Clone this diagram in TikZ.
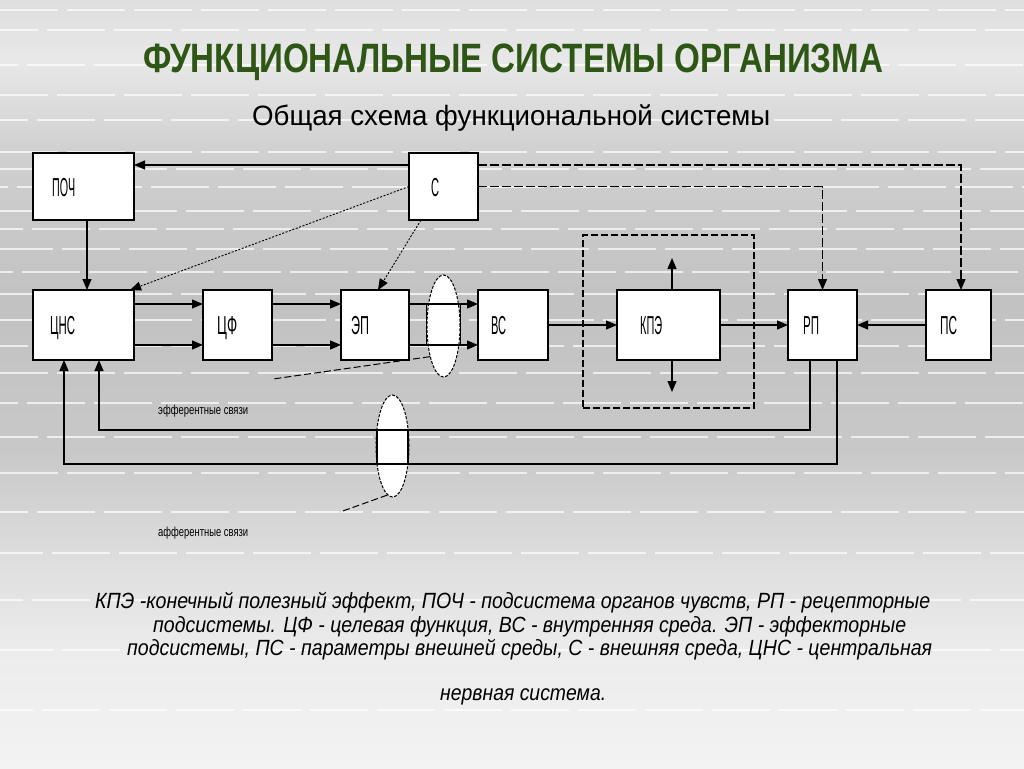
\documentclass[tikz,border=0pt]{standalone}
\usepackage{fontspec}
\setmainfont{Liberation Sans}
\usepackage{graphicx}
\usetikzlibrary{arrows.meta,shapes.geometric,calc}
\definecolor{cA}{RGB}{222,222,222}
\definecolor{cB}{RGB}{232,232,232}
\definecolor{cC}{RGB}{208,208,208}
\definecolor{cD}{RGB}{194,194,194}
\definecolor{cE}{RGB}{200,200,200}
\definecolor{cF}{RGB}{222,222,222}
\definecolor{cG}{RGB}{236,236,236}
\definecolor{cH}{RGB}{243,243,243}
\definecolor{titlegreen}{RGB}{46,86,20}
\pgfdeclareverticalshading{bgshade}{100bp}{color(0bp)=(cH); color(25bp)=(cH); color(32.7bp)=(cG); color(38.5bp)=(cF); color(45.7bp)=(cE); color(55.5bp)=(cD); color(65.2bp)=(cC); color(71.1bp)=(cB); color(75bp)=(cA); color(100bp)=(cA)}
\newcommand{\fitw}[2]{\resizebox{#1pt}{\height}{#2}}
\tikzset{
  box/.style={draw=black, line width=1.4pt, fill=white, inner sep=0pt, outer sep=0pt, rectangle},
  lab/.style={anchor=base west, inner sep=0pt, font=\fontsize{26}{26}\selectfont},
  conn/.style={line width=1.2pt},
  arr/.style={conn, -{Triangle[length=11pt,width=9pt]}},
  dotl/.style={line width=0.9pt, dash pattern=on 2pt off 1.6pt},
  dashl/.style={line width=1.2pt, dash pattern=on 9pt off 3pt},
  ptr/.style={line width=1pt, dash pattern=on 7pt off 3pt},
  lens/.style={ellipse, draw, fill=white, line width=1pt, dash pattern=on 3pt off 1.5pt, inner sep=0pt, minimum width=33pt, minimum height=102pt},
  stripe/.style={white, opacity=0.7, line width=2.5pt},
  capline/.style={anchor=west, inner sep=0pt, font=\fontsize{22}{22}\selectfont\itshape},
}
\begin{document}
\begin{tikzpicture}[x=1pt,y=-1pt]
\useasboundingbox (0,0) rectangle (1024,768);
\shade[shading=bgshade] (0,0) rectangle (1024,768);
% background stripes
\foreach \yy/\ph in {10/0,30/20,65/40,95/10,120/30,152/0,169/25,187/50,211/15,229/35,249/5,272/45,294/20,320/0,346/30,373/10,403/40,437/20,473/0,512/30,553/15,600/35,650/5,710/25}
  \draw[stripe, dash pattern=on 58pt off 9pt, dash phase=\ph pt] (0,\yy) -- (1024,\yy);

% titles
\node[anchor=west, inner sep=0pt, text=titlegreen, font=\fontsize{41}{41}\selectfont\bfseries] (title) at (143,62) {\fitw{740}{ФУНКЦИОНАЛЬНЫЕ СИСТЕМЫ ОРГАНИЗМА}};
\node[anchor=west, inner sep=0pt, font=\fontsize{28}{28}\selectfont] (sub) at (252,118) {\fitw{518}{Общая схема функциональной системы}};

% dashed zone around КПЭ
\node[draw, line width=1.1pt, dash pattern=on 7pt off 3pt, minimum width=171pt, minimum height=173pt, inner sep=0pt] (zone) at (668.5,321.5) {};

% lenses
\node[lens] (el1) at (443.5,326) {};
\node[lens] (el2) at (392.5,446) {};

% boxes
\node[box,minimum width=101pt,minimum height=67pt] (poch) at (83.5,186.5) {};
\node[box,minimum width=69pt,minimum height=67pt] (s) at (443.5,186.5) {};
\node[box,minimum width=101pt,minimum height=70pt] (cns) at (83.5,325) {};
\node[box,minimum width=69pt,minimum height=70pt] (cf) at (237.5,325) {};
\node[box,minimum width=68pt,minimum height=70pt] (ep) at (375,325) {};
\node[box,minimum width=70pt,minimum height=70pt] (vs) at (513,325) {};
\node[box,minimum width=103pt,minimum height=70pt] (kpe) at (668.5,325) {};
\node[box,minimum width=69pt,minimum height=70pt] (rp) at (822.5,325) {};
\node[box,minimum width=65pt,minimum height=70pt] (ps) at (958.5,325) {};

% box labels (baselines)
\node[lab] (tpoch) at (52,196) {\fitw{23}{ПОЧ}};
\node[lab] (ts) at (431,196) {\fitw{8}{С}};
\node[lab] (tcns) at (50,334) {\fitw{25}{ЦНС}};
\node[lab] (tcf) at (217,334) {\fitw{20}{ЦФ}};
\node[lab] (tep) at (351,334) {\fitw{18}{ЭП}};
\node[lab] (tvs) at (491,334) {\fitw{15}{ВС}};
\node[lab] (tkpe) at (640,334) {\fitw{22}{КПЭ}};
\node[lab] (trp) at (803,334) {\fitw{16}{РП}};
\node[lab] (tps) at (940,334) {\fitw{17}{ПС}};

% connectors
\coordinate (s1) at ([yshift=21.5pt]s.west);
\draw[arr] (s1) -- (s1 -| poch.east);
\draw[arr] ([xshift=3.5pt]poch.south) -- ([xshift=3.5pt]cns.north);
\draw[dotl, -{Triangle[length=11pt,width=9pt]}] (s.west) -- ([xshift=-4pt]cns.north east);
\draw[dotl, -{Triangle[length=11pt,width=9pt]}] ([xshift=-22.5pt]s.south) -- ([xshift=3pt]ep.north);
\draw[dashl, -{Triangle[length=11pt,width=9pt]}] (s.east) -| (rp.north);
\draw[dashl, -{Triangle[length=11pt,width=9pt]}] ([yshift=21.5pt]s.east) -| ([xshift=2.5pt]ps.north);
\foreach \d in {21,-20}{
  \draw[arr] ([yshift=\d pt]cns.east) -- ([yshift=\d pt]cf.west);
  \draw[arr] ([yshift=\d pt]cf.east) -- ([yshift=\d pt]ep.west);
  \draw[arr] ([yshift=\d pt]ep.east) -- ([yshift=\d pt]vs.west);
}
\draw[conn] ([yshift=21pt]el1.center -| el1.west) -- ([yshift=-20pt]el1.center -| el1.west);
\draw[conn] ([yshift=21pt]el1.center -| el1.east) -- ([yshift=-20pt]el1.center -| el1.east);
\draw[arr] (vs.east) -- (kpe.west);
\draw[arr] (kpe.east) -- (rp.west);
\draw[arr] (ps.west) -- (rp.east);
\coordinate (kup) at (672,258);
\coordinate (kdn) at (672,392);
\draw[arr] ([xshift=3.5pt]kpe.north) -- (kup);
\draw[arr] ([xshift=3.5pt]kpe.south) -- (kdn);
\draw[arr] ([xshift=-12.5pt]rp.south) -- ++(0,70) -| ([xshift=15.5pt]cns.south);
\draw[arr] ([xshift=14.5pt]rp.south) -- ++(0,104) -| ([xshift=-19.5pt]cns.south);
\draw[conn] (377,430) -- (377,464);
\draw[conn] (408,430) -- (408,464);

% pointer lines
\coordinate (p1) at (273,379);
\coordinate (p2) at (340,512);
\draw[ptr] (el1.246) -- (p1);
\draw[ptr] (el2.264) -- (p2);

% small labels
\node[anchor=west, inner sep=0pt, font=\fontsize{13}{13}\selectfont] (eff) at (158,411) {\fitw{90}{эфферентные связи}};
\node[anchor=west, inner sep=0pt, font=\fontsize{13}{13}\selectfont] (aff) at (158,533) {\fitw{90}{афферентные связи}};

% caption
\node[capline] (c1) at (95,603) {\fitw{835}{КПЭ -конечный полезный эффект, ПОЧ - подсистема органов чувств, РП - рецепторные}};
\node[capline] (c2) at (153,627) {\fitw{753}{подсистемы. ЦФ - целевая функция, ВС - внутренняя среда. ЭП - эффекторные}};
\node[capline] (c3) at (127,650) {\fitw{805}{подсистемы, ПС - параметры внешней среды, С - внешняя среда, ЦНС - центральная}};
\node[capline] (c4) at (440,697) {\fitw{166}{нервная система.}};
\end{tikzpicture}
\end{document}
